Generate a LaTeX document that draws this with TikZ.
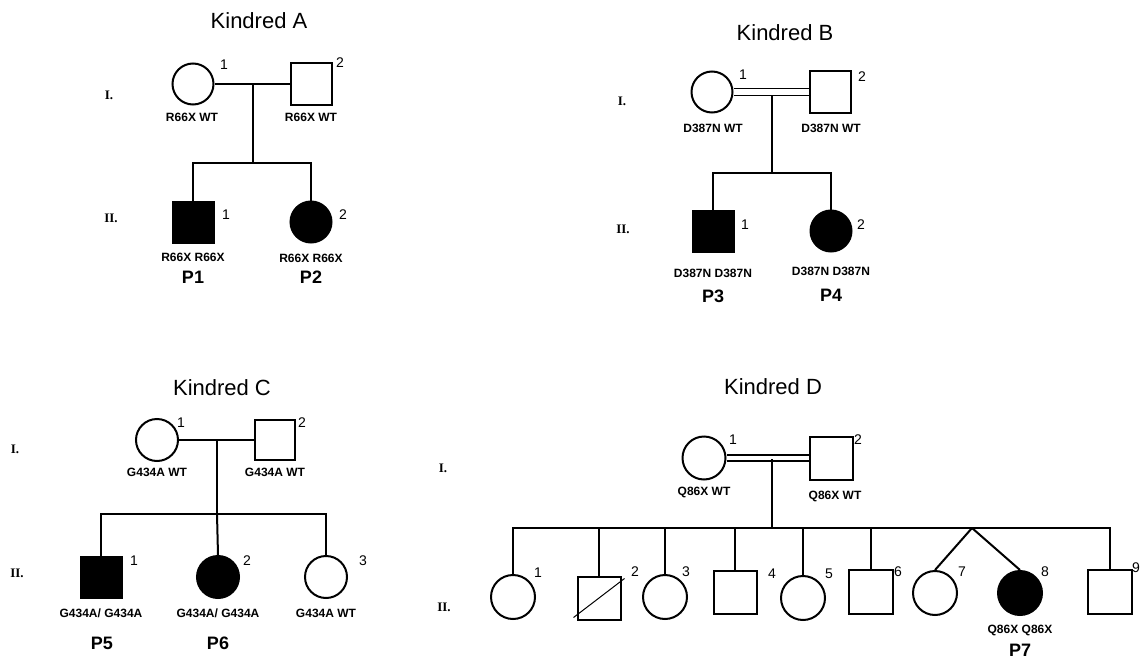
\documentclass[tikz,border=0pt]{standalone}
\usepackage{fontspec}
\setmainfont{Liberation Sans}
\newfontfamily\genfont{Liberation Serif}
\begin{document}
\begin{tikzpicture}[x=1pt,y=-1pt,
  ln/.style={line width=2pt},
  fem/.style={circle,draw,line width=2pt,minimum size=#1,inner sep=0pt},
  fem/.default=41pt,
  mal/.style={rectangle,draw,line width=2pt,minimum size=#1,inner sep=0pt},
  mal/.default=41pt,
  aff/.style={fill=black},
  ttl/.style={font=\fontsize{22}{24}\selectfont},
  num/.style={font=\fontsize{14}{16}\selectfont,inner sep=0pt},
  geno/.style={font=\bfseries\fontsize{12}{13}\selectfont,inner sep=0pt},
  plab/.style={font=\bfseries\fontsize{18}{20}\selectfont,inner sep=0pt},
  gen/.style={font=\genfont\bfseries\fontsize{13}{14}\selectfont,inner sep=0pt}]
\useasboundingbox (0,0) rectangle (1140,661);
\fill[white] (0,0) rectangle (1140,661);

% ---------------- Kindred A ----------------
\node[ttl] (ta) at (259,21) {Kindred A};
\node[gen] (agI) at (109,95) {I.};
\node[gen] (agII) at (111,218) {II.};
\node[fem] (a1) at (193,84) {};
\node[mal] (a2) at (311,84) {};
\node[mal,aff] (a3) at (193,222) {};
\node[fem,aff] (a4) at (311,222) {};
\coordinate (am) at (253,84);
\coordinate (asib) at (253,163);
\draw[ln] (a1.east) -- (a2.west);
\draw[ln] (am) -- (asib);
\draw[ln] (a3.north) |- (asib) -| (a4.north);
\node[num] (an1) at (224,65) {1};
\node[num] (an2) at (340,63) {2};
\node[num] (an3) at (226,215) {1};
\node[num] (an4) at (343,215) {2};
\node[geno] (ag1) at (192,117) {R66X WT};
\node[geno] (ag2) at (311,117) {R66X WT};
\node[geno] (ag3) at (193,257) {R66X R66X};
\node[geno] (ag4) at (311,258) {R66X R66X};
\node[plab] (ap1) at (193,277) {P1};
\node[plab] (ap2) at (311,277) {P2};

% ---------------- Kindred B ----------------
\node[ttl] (tb) at (785,33) {Kindred B};
\node[gen] (bgI) at (622,101) {I.};
\node[gen] (bgII) at (623,229) {II.};
\node[fem] (b1) at (712,92) {};
\node[mal] (b2) at (830,92) {};
\node[mal,aff] (b3) at (713,231) {};
\node[fem,aff] (b4) at (831,231) {};
\coordinate (bm) at (772,95.5);
\coordinate (bsib) at (772,173);
\draw[line width=1.6pt] ([yshift=-3.5pt]b1.east) -- ([yshift=-3.5pt]b2.west);
\draw[line width=1.6pt] ([yshift=3.5pt]b1.east) -- ([yshift=3.5pt]b2.west);
\draw[ln] (bm) -- (bsib);
\draw[ln] (b3.north) |- (bsib) -| (b4.north);
\node[num] (bn1) at (743,75) {1};
\node[num] (bn2) at (862,77) {2};
\node[num] (bn3) at (745,225) {1};
\node[num] (bn4) at (861,225) {2};
\node[geno] (bg1) at (713,128) {D387N WT};
\node[geno] (bg2) at (831,128) {D387N WT};
\node[geno] (bg3) at (713,273) {D387N D387N};
\node[geno] (bg4) at (831,271) {D387N D387N};
\node[plab] (bp3) at (713,296) {P3};
\node[plab] (bp4) at (831,295) {P4};

% ---------------- Kindred C ----------------
\node[ttl] (tc) at (222,388) {Kindred C};
\node[gen] (cgI) at (15,449) {I.};
\node[gen] (cgII) at (17,573) {II.};
\node[fem=42pt] (c1) at (157,440) {};
\node[mal=40pt] (c2) at (275,440) {};
\node[mal,aff] (c3) at (101,577) {};
\node[fem=42pt,aff] (c4) at (218,577) {};
\node[fem=42pt] (c5) at (326,577) {};
\coordinate (cm) at (217,440);
\coordinate (csib) at (217,514);
\draw[ln] (c1.east) -- (c2.west);
\draw[ln] (cm) -- (csib);
\draw[ln] (c3.north) |- (csib) -| (c5.north);
\draw[ln] (c4.north) -- (csib);
\node[num] (cn1) at (181,423) {1};
\node[num] (cn2) at (302,423) {2};
\node[num] (cn3) at (134,561) {1};
\node[num] (cn4) at (247,561) {2};
\node[num] (cn5) at (363,561) {3};
\node[geno] (cg1) at (157,472) {G434A WT};
\node[geno] (cg2) at (275,472) {G434A WT};
\node[geno] (cg3) at (101,613) {G434A/ G434A};
\node[geno] (cg4) at (218,613) {G434A/ G434A};
\node[geno] (cg5) at (326,613) {G434A WT};
\node[plab] (cp5) at (102,643) {P5};
\node[plab] (cp6) at (218,643) {P6};

% ---------------- Kindred D ----------------
\node[ttl] (td) at (773,387) {Kindred D};
\node[gen] (dgI) at (443,468) {I.};
\node[gen] (dgII) at (444,607) {II.};
\node[fem=43pt] (d1) at (704,458) {};
\node[mal=43pt] (d2) at (831,458) {};
\coordinate (dm) at (772,459);
\coordinate (dsibL) at (514,528);
\coordinate (dsibR) at (1110,528);
\coordinate (dtw) at (972,528);
\draw[line width=1.6pt] ([yshift=-3pt]d1.east) -- ([yshift=-3pt]d2.west);
\draw[line width=1.6pt] ([yshift=3pt]d1.east) -- ([yshift=3pt]d2.west);
\draw[ln] (dm) -- (dm |- dsibL);
\node[fem=44pt] (d3) at (513,597) {};
\node[mal=43pt] (d4) at (599,598) {};
\node[fem=44pt] (d5) at (665,597) {};
\node[mal=43pt] (d6) at (735,592) {};
\node[fem=44pt] (d7) at (803,598) {};
\node[mal=44pt] (d8) at (871,592) {};
\node[fem=44pt] (d9) at (935,593) {};
\node[fem=44pt,aff] (d10) at (1020,593) {};
\node[mal=44pt] (d11) at (1110,592) {};
\draw[ln] (d3.north) |- (dsibR) -- (d11.north);
\draw[ln] (d4.north) -- (d4.north |- dsibL);
\draw[ln] (d5.north) -- (d5.north |- dsibL);
\draw[ln] (d6.north) -- (d6.north |- dsibL);
\draw[ln] (d7.north) -- (d7.north |- dsibL);
\draw[ln] (d8.north) -- (d8.north |- dsibL);
\draw[ln] (dtw) -- (d9.north);
\draw[ln] (dtw) -- (d10.north);
\draw[line width=1pt] ([shift={(-3pt,3pt)}]d4.south west) -- ([shift={(3pt,-3pt)}]d4.north east);
\node[num] (dn1) at (538,573) {1};
\node[num] (dn2) at (635,572) {2};
\node[num] (dn3) at (686,572) {3};
\node[num] (dn4) at (772,574) {4};
\node[num] (dn5) at (829,574) {5};
\node[num] (dn6) at (898,572) {6};
\node[num] (dn7) at (962,572) {7};
\node[num] (dn8) at (1045,572) {8};
\node[num,anchor=east] (dn9) at (1140,568) {9};
\node[num] (dnI1) at (733,440) {1};
\node[num] (dnI2) at (858,440) {2};
\node[geno] (dg1) at (704,492) {Q86X WT};
\node[geno] (dg2) at (835,496) {Q86X WT};
\node[geno] (dg10) at (1020,630) {Q86X Q86X};
\node[plab] (dp7) at (1020,650) {P7};
\end{tikzpicture}
\end{document}
